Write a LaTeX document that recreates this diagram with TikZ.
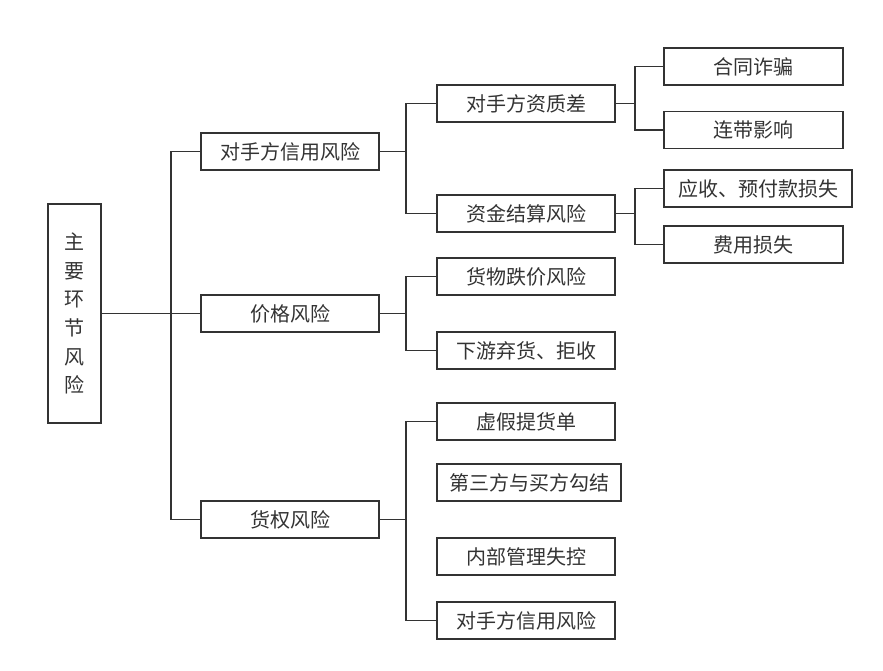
\documentclass[tikz,border=0pt]{standalone}
\usepackage{fontspec}
\setmainfont{Noto Sans CJK SC}
\definecolor{ink}{HTML}{333333}
\begin{document}
\begin{tikzpicture}[x=1pt,y=-1pt,
  box/.style={draw=ink,line width=1.8pt,text=ink,minimum height=37pt,inner sep=0pt,font=\fontsize{20}{22}\selectfont},
  w1/.style={minimum width=178pt},
  wire/.style={draw=ink,line width=1.8pt}]
\useasboundingbox (0,0) rectangle (883,671);
% root
\node[box,minimum width=53pt,minimum height=219pt,align=center,font=\fontsize{20}{28.7}\selectfont] (root) at (74.5,313.5) {主\\要\\环\\节\\风\\险};
% level 1
\node[box,w1] (a1) at (290,151.5) {对手方信用风险};
\node[box,w1] (a2) at (290,313.5) {价格风险};
\node[box,w1] (a3) at (290,519.5) {货权风险};
% level 2
\node[box,w1] (b1) at (526,103.5) {对手方资质差};
\node[box,w1] (b2) at (526,213.5) {资金结算风险};
\node[box,w1] (b3) at (526,276.5) {货物跌价风险};
\node[box,w1] (b4) at (526,350.5) {下游弃货、拒收};
\node[box,w1] (b5) at (526,421.5) {虚假提货单};
\node[box,minimum width=184pt] (b6) at (529,482.5) {第三方与买方勾结};
\node[box,w1] (b7) at (526,556.5) {内部管理失控};
\node[box,w1] (b8) at (526,620.5) {对手方信用风险};
% level 3
\node[box,minimum width=179pt] (c1) at (753.5,66.5) {合同诈骗};
\node[box,minimum width=179pt] (c2) at (753.5,130) {连带影响};
\node[box,minimum width=188pt] (c3) at (758,188.5) {应收、预付款损失};
\node[box,minimum width=179pt] (c4) at (753.5,244.5) {费用损失};
% junctions
\coordinate (j0) at (171,313.5);
\coordinate (j1) at (406,151.5);
\coordinate (j2) at (406,313.5);
\coordinate (j3) at (406,519.5);
\coordinate (k1) at (635,103.5);
\coordinate (k2) at (635,213.5);
% connectors
\draw[wire] (root.east) -- (j0) -- (a2.west);
\draw[wire] (a1.west) -| (j0) |- (a3.west);
\draw[wire] (a1.east) -- (j1);
\draw[wire] (b1.west) -| (j1) |- (b2.west);
\draw[wire] (a2.east) -- (j2);
\draw[wire] (b3.west) -| (j2) |- (b4.west);
\draw[wire] (a3.east) -- (j3);
\draw[wire] (b5.west) -| (j3) |- (b8.west);
\draw[wire] (b1.east) -- (k1);
\draw[wire] (c1.west) -| (k1) |- (c2.west);
\draw[wire] (b2.east) -- (k2);
\draw[wire] (c3.west) -| (k2) |- (c4.west);
\end{tikzpicture}
\end{document}
